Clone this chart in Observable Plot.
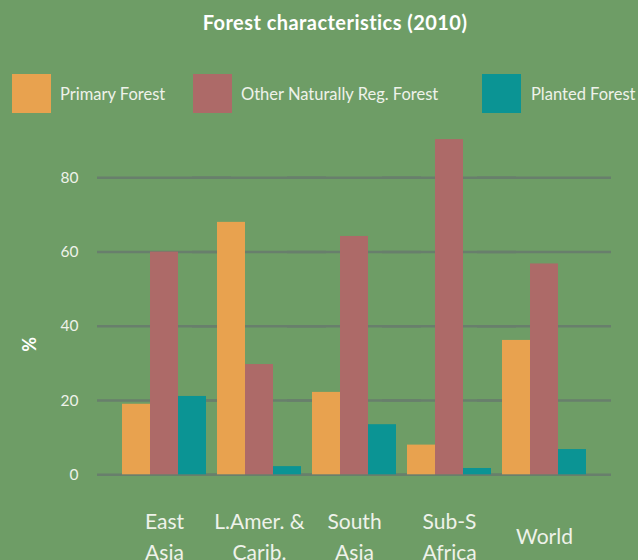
<!DOCTYPE html>
<html>
<head>
<meta charset="utf-8">
<script src="https://cdn.jsdelivr.net/npm/d3@7"></script>
<script src="https://cdn.jsdelivr.net/npm/@observablehq/plot@0.6"></script>
<style>
  html, body { margin: 0; padding: 0; background: #6e9d66; }
  #wrap { position: relative; width: 638px; height: 560px; overflow: hidden; background: #6e9d66; font-family: Lato, "Open Sans", sans-serif; color: #f2f5ee; }
  #header { position: relative; width: 638px; height: 125px; }
  #title { position: absolute; left: 0; width: 670px; top: 12px; text-align: center; font-size: 20px; letter-spacing: 0.45px; font-weight: bold; line-height: 1; color: #ffffff; }
  .sw { position: absolute; top: 74px; width: 39px; height: 39px; }
  .lt { position: absolute; top: 85.5px; font-size: 16.5px; line-height: 1; white-space: nowrap; color: #eef2ea; }
</style>
</head>
<body>
<div id="wrap">
  <div id="header">
    <div id="title">Forest characteristics (2010)</div>
    <div id="legend"></div>
  </div>
  <div id="chart"></div>
</div>
<script>
const regions = ["East Asia", "L.Amer. & Carib.", "South Asia", "Sub-S Africa", "World"];
const regionLabels = ["East\nAsia", "L.Amer. &\nCarib.", "South\nAsia", "Sub-S\nAfrica", "World"];
const series = ["Primary Forest", "Other Naturally Reg. Forest", "Planted Forest"];
const colors = ["#e8a24f", "#ad6a68", "#0b9494"];
const primary = [19, 68, 22.2, 8, 36.2];
const otherNatural = [60, 29.7, 64.2, 90.3, 56.8];
const planted = [21.1, 2.2, 13.5, 1.7, 6.8];
const yTicks = [0, 20, 40, 60, 80];

const values = [primary, otherNatural, planted];
const data = [];
regions.forEach((r, i) => series.forEach((s, k) => data.push({region: r, series: s, value: values[k][i]})));

// legend
const legendPos = [[12, 60], [193, 241], [482, 531]];
const legend = document.getElementById("legend");
series.forEach((s, k) => {
  const sw = document.createElement("div");
  sw.className = "sw"; sw.style.left = legendPos[k][0] + "px"; sw.style.background = colors[k];
  const t = document.createElement("div");
  t.className = "lt"; t.style.left = legendPos[k][1] + "px"; t.textContent = s;
  legend.append(sw, t);
});

const textColor = "#eef2ea";
const gridColor = "#687f6c";

const chart = Plot.plot({
  width: 638,
  height: 435,
  marginLeft: 96,
  marginRight: 25,
  marginTop: 15.2,
  marginBottom: 85.7,
  style: {background: "transparent", fontFamily: "Lato, 'Open Sans', sans-serif", color: textColor},
  fx: {domain: regions, paddingInner: 0.094, paddingOuter: 0.25, axis: null},
  x: {domain: series, paddingInner: 0, paddingOuter: 0, axis: null},
  y: {domain: [0, 90], nice: false, axis: null},
  color: {domain: series, range: colors},
  marks: [
    Plot.ruleY(yTicks, {stroke: gridColor, strokeWidth: 2.6, insetLeft: -24, insetRight: -24}),
    Plot.barY(data, {fx: "region", x: "series", y: "value", fill: "series"}),
    Plot.axisY({ticks: yTicks, tickSize: 0, tickPadding: 43, fontSize: 15.5, color: textColor, label: null}),
    Plot.text(["%"], {fx: () => regions[0], text: d => d, frameAnchor: "left", rotate: -90, dx: -91, dy: 44, fontSize: 18, fontWeight: "bold", fill: "#ffffff"}),
    Plot.axisFx({anchor: "bottom", tickFormat: d => regionLabels[regions.indexOf(d)], fontSize: 21, lineHeight: 1.5, lineAnchor: "middle", tickSize: 0, tickPadding: 59.5, label: null, color: textColor})
  ]
});
document.getElementById("chart").append(chart);
</script>
</body>
</html>
